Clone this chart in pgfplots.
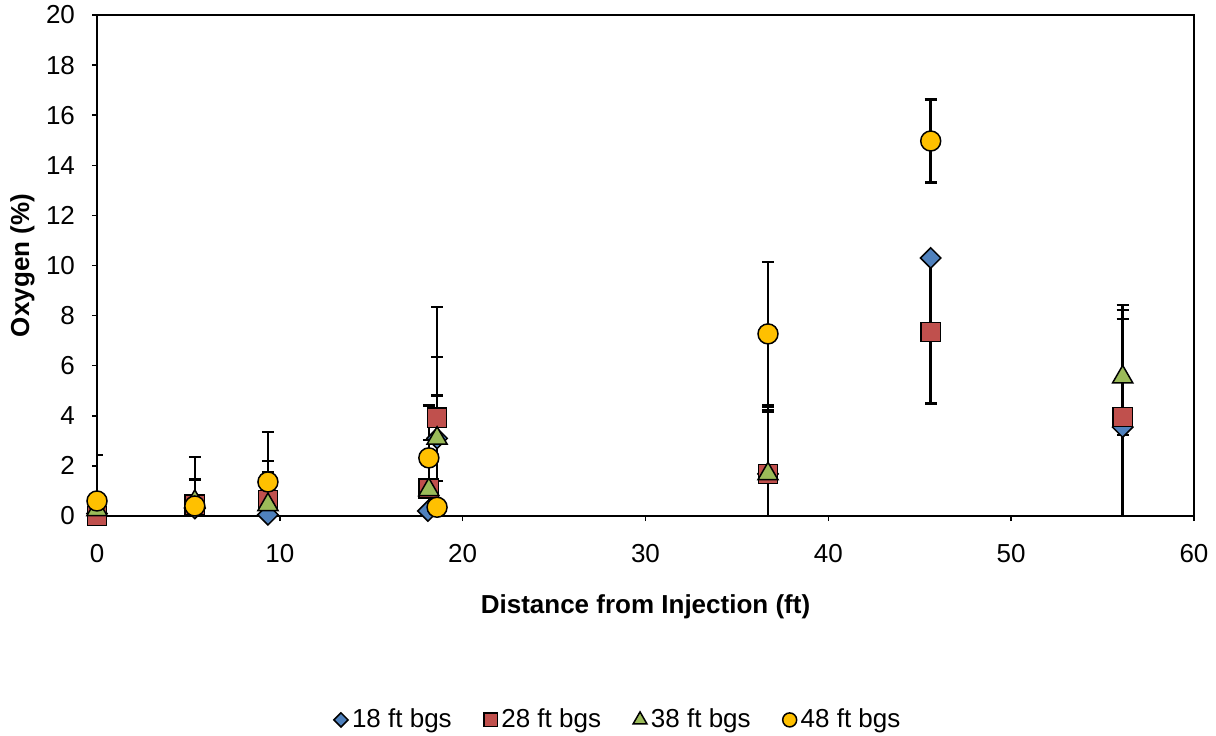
\documentclass[border=0pt]{standalone}
\usepackage{fontspec}
\setmainfont{Liberation Sans}
\usepackage{pgfplots}
\pgfplotsset{compat=1.18}
\definecolor{cA}{HTML}{4F81BD}
\definecolor{cB}{HTML}{C0504D}
\definecolor{cC}{HTML}{9BBB59}
\definecolor{cD}{HTML}{FFC000}
\pgfplotstableread{
x y e
0 0.10 0
5.35 0.30 0
9.35 0.05 0
18.10 0.20 0
18.60 3.10 1.70
36.70 1.68 2.50
45.60 10.30 0
56.10 3.55 4.67
}\dA
\pgfplotstableread{
x y e
0 0.00 0.30
5.35 0.45 1.00
9.35 0.64 1.56
18.15 1.10 1.94
18.60 3.92 4.43
36.70 1.68 2.67
45.60 7.35 2.85
56.10 3.95 4.47
}\dB
\pgfplotstableread{
x y e
0 0.25 0.20
5.35 0.58 0.90
9.35 0.45 1.31
18.15 1.05 0.30
18.60 3.10 3.25
36.70 1.68 2.55
56.10 5.55 2.31
}\dC
\pgfplotstableread{
x y e
0 0.60 1.83
5.35 0.40 1.95
9.35 1.36 2.00
18.15 2.32 2.10
18.60 0.35 1.05
36.70 7.27 2.87
45.60 14.97 1.65
}\dD
\begin{document}
\begin{tikzpicture}
\useasboundingbox (0,0) rectangle (608pt,367.5pt);
\begin{axis}[
  at={(48.5pt,109.5pt)}, anchor=south west,
  scale only axis, width=548.5pt, height=250.5pt,
  xmin=0, xmax=60, ymin=0, ymax=20,
  xtick={0,10,...,60}, ytick={0,2,...,20},
  tick align=outside, xtick pos=bottom, ytick pos=left,
  major tick length=2.5pt,
  tick style={black, line width=0.75pt},
  axis line style={black, line width=0.75pt},
  /pgf/number format/assume math mode=true,
  tick label style={font=\fontsize{13}{15}\selectfont},
  xticklabel style={yshift=-8pt},
  yticklabel style={xshift=-5pt},
  label style={font=\fontsize{13}{15}\selectfont\bfseries},
  xlabel={Distance from Injection (ft)},
  ylabel={Oxygen (\%)},
  xlabel style={at={(axis description cs:0.5,-0.1816)}, anchor=center},
  ylabel style={at={(axis description cs:-0.068,0.5)}, anchor=center},
  legend columns=4,
  legend style={draw=none, fill=none, at={(axis description cs:0.476,-0.407)}, anchor=center,
    font=\fontsize{13}{15}\selectfont,
    /tikz/every even column/.append style={column sep=14pt}},
  legend image code/.code={\draw[mark repeat=2,mark phase=2,#1] plot coordinates {(0cm,0cm) (0.15cm,0cm) (0.30cm,0cm)};},
  error bars/error bar style={draw=black, line width=1.3pt, solid},
  error bars/error mark options={rotate=90, mark size=3pt, line width=1.3pt, draw=black},
]
% error bars first
\addplot[draw=none, mark=none, forget plot, error bars/.cd, y dir=both, y explicit] table[x=x, y=y, y error=e] {\dA};
\addplot[draw=none, mark=none, forget plot, error bars/.cd, y dir=both, y explicit] table[x=x, y=y, y error=e] {\dB};
\addplot[draw=none, mark=none, forget plot, error bars/.cd, y dir=both, y explicit] table[x=x, y=y, y error=e] {\dC};
\addplot[draw=none, mark=none, forget plot, error bars/.cd, y dir=both, y explicit] table[x=x, y=y, y error=e] {\dD};
% markers
\addplot[only marks, mark=square*, mark size=3.6pt, mark options={rotate=45, fill=cA, draw=black, line width=0.75pt}, forget plot] table[x=x, y=y] {\dA};
\addplot[only marks, mark=square*, mark size=4.8pt, mark options={fill=cB, draw=black, line width=0.75pt}, forget plot] table[x=x, y=y] {\dB};
\addplot[only marks, mark=triangle*, mark size=5.8pt, mark options={fill=cC, draw=black, line width=0.75pt}, forget plot] table[x=x, y=y] {\dC};
\addplot[only marks, mark=*, mark size=5pt, mark options={fill=cD, draw=black, line width=0.75pt}, forget plot] table[x=x, y=y] {\dD};
% legend
\addlegendimage{only marks, mark=square*, mark size=2.5pt, mark options={rotate=45, fill=cA, draw=black, line width=0.75pt}}
\addlegendentry{18 ft bgs}
\addlegendimage{only marks, mark=square*, mark size=3.4pt, mark options={fill=cB, draw=black, line width=0.75pt}}
\addlegendentry{28 ft bgs}
\addlegendimage{only marks, mark=triangle*, mark size=4pt, mark options={fill=cC, draw=black, line width=0.75pt}}
\addlegendentry{38 ft bgs}
\addlegendimage{only marks, mark=*, mark size=3.5pt, mark options={fill=cD, draw=black, line width=0.75pt}}
\addlegendentry{48 ft bgs}
\end{axis}
\end{tikzpicture}
\end{document}
